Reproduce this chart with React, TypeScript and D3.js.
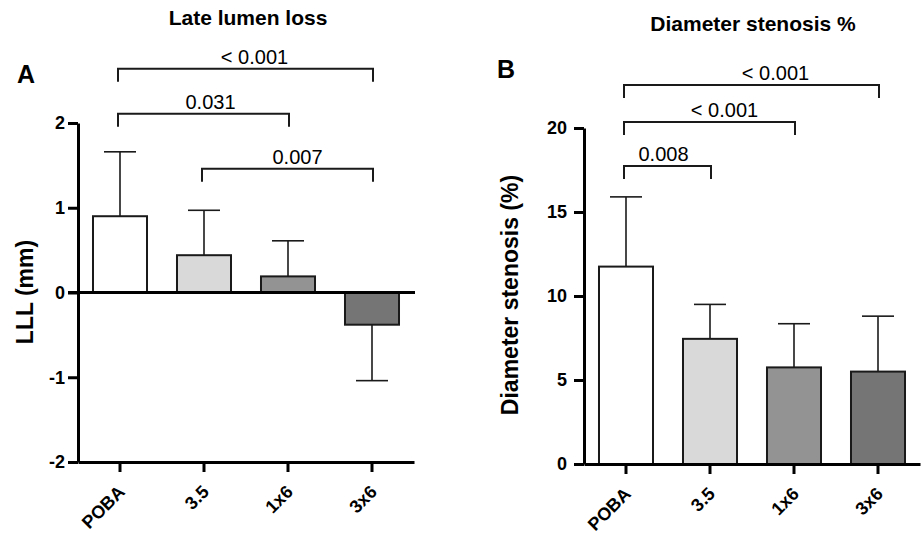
import React, { useEffect, useRef } from 'react';
import * as d3 from 'd3';

// groups (same for both panels)
const categories = ['POBA', '3.5', '1x6', '3x6'];
const barColors = ['#ffffff', '#d9d9d9', '#939393', '#757575'];

// A: late lumen loss (mm), mean and SD
const lllMean = [0.9, 0.44, 0.19, -0.38];
const lllSd = [0.76, 0.53, 0.42, 0.66];
const lllTicks = [-2, -1, 0, 1, 2];

// B: diameter stenosis (%), mean and SD
const dsMean = [11.75, 7.45, 5.75, 5.5];
const dsSd = [4.15, 2.05, 2.6, 3.3];
const dsTicks = [0, 5, 10, 15, 20];

// p-value brackets: [from, to, height in data units, label]
const lllPairs: [string, string, number, string][] = [
  ['POBA', '3x6', 2.64, '< 0.001'],
  ['POBA', '1x6', 2.11, '0.031'],
  ['3.5', '3x6', 1.46, '0.007'],
];
const dsPairs: [string, string, number, string][] = [
  ['POBA', '3x6', 22.56, '< 0.001'],
  ['POBA', '1x6', 20.36, '< 0.001'],
  ['POBA', '3.5', 17.74, '0.008'],
];

const FONT = "Arial, 'Liberation Sans', sans-serif";

type PanelOpts = {
  means: number[];
  sds: number[];
  ticks: number[];
  domain: [number, number];
  pairs: [string, string, number, string][];
  labelShift: number[];
  left: number;
  right: number;
  top: number;
  bottom: number;
  tickPad: number;
  title: string;
  titleX: number;
  titleY: number;
  letter: string;
  letterX: number;
  letterY: number;
  yLabel: string;
  yLabelX: number;
  yLabelY: number;
};

function drawPanel(svg: d3.Selection<SVGSVGElement, unknown, null, undefined>, o: PanelOpts) {
  const x = d3.scaleBand<string>()
    .domain(categories)
    .range([o.left, o.right])
    .paddingInner(0.357)
    .paddingOuter(0.1785);
  const y = d3.scaleLinear().domain(o.domain).range([o.bottom, o.top]);
  const g = svg.append('g');

  // bars
  g.selectAll('rect.bar')
    .data(o.means)
    .enter()
    .append('rect')
    .attr('x', (d, i) => x(categories[i])!)
    .attr('y', d => Math.min(y(d), y(0)))
    .attr('width', x.bandwidth())
    .attr('height', d => Math.abs(y(d) - y(0)))
    .attr('fill', (d, i) => barColors[i])
    .attr('stroke', '#1a1a1a')
    .attr('stroke-width', 2);

  // error bars (one side only)
  const cap = 16;
  o.means.forEach((m, i) => {
    const cx = x(categories[i])! + x.bandwidth() / 2;
    const end = m >= 0 ? m + o.sds[i] : m - o.sds[i];
    g.append('line')
      .attr('x1', cx).attr('x2', cx)
      .attr('y1', y(m)).attr('y2', y(end))
      .attr('stroke', '#1a1a1a').attr('stroke-width', 1.6);
    g.append('line')
      .attr('x1', cx - cap).attr('x2', cx + cap)
      .attr('y1', y(end)).attr('y2', y(end))
      .attr('stroke', '#1a1a1a').attr('stroke-width', 1.6);
  });

  // y axis
  const yAxis = g.append('g')
    .attr('transform', `translate(${o.left},0)`)
    .call(d3.axisLeft(y).tickValues(o.ticks).tickFormat(d => String(d)).tickSize(10).tickSizeOuter(0).tickPadding(o.tickPad));
  yAxis.select('.domain').attr('stroke-width', 3);
  yAxis.selectAll('.tick line').attr('stroke-width', 3);
  yAxis.selectAll('text').style('font-size', '18px').style('font-weight', 'bold').style('font-family', FONT).attr('fill', '#000');

  // x axis at bottom
  const xAxis = g.append('g')
    .attr('transform', `translate(0,${o.bottom})`)
    .call(d3.axisBottom(x).tickSize(10).tickSizeOuter(0).tickFormat(() => ''));
  xAxis.select('.domain').attr('stroke-width', 3);
  xAxis.selectAll('.tick line').attr('stroke-width', 3);

  // rotated category labels
  g.selectAll('text.cat')
    .data(categories)
    .enter()
    .append('text')
    .attr('transform', d => `translate(${x(d)! + x.bandwidth() / 2 + 6},${o.bottom + 31}) rotate(-45)`)
    .attr('text-anchor', 'end')
    .style('font-size', '18px')
    .style('font-weight', 'bold')
    .style('font-family', FONT)
    .text(d => d);

  // zero line when the axis crosses zero
  if (o.domain[0] < 0) {
    g.append('line')
      .attr('x1', o.left - 10).attr('x2', o.right + 1)
      .attr('y1', y(0)).attr('y2', y(0))
      .attr('stroke', '#000').attr('stroke-width', 3);
  }

  // significance brackets
  const leg = 13;
  o.pairs.forEach(([a, b, h, label], i) => {
    const x1 = x(a)! + x.bandwidth() / 2 - 2;
    const x2 = x(b)! + x.bandwidth() / 2 + 1;
    const yy = y(h);
    g.append('path')
      .attr('d', `M${x1},${yy + leg}V${yy}H${x2}V${yy + leg}`)
      .attr('fill', 'none')
      .attr('stroke', '#1a1a1a')
      .attr('stroke-width', 2);
    g.append('text')
      .attr('x', (x1 + x2) / 2 + o.labelShift[i])
      .attr('y', yy - 5)
      .attr('text-anchor', 'middle')
      .style('font-size', '20px')
      .style('font-family', FONT)
      .text(label);
  });

  // titles and labels
  g.append('text')
    .attr('x', o.titleX).attr('y', o.titleY)
    .attr('text-anchor', 'middle')
    .style('font-size', '21px').style('font-weight', 'bold').style('font-family', FONT)
    .text(o.title);
  g.append('text')
    .attr('x', o.letterX).attr('y', o.letterY)
    .style('font-size', '25px').style('font-weight', 'bold').style('font-family', FONT)
    .text(o.letter);
  g.append('text')
    .attr('transform', `translate(${o.yLabelX},${o.yLabelY}) rotate(-90)`)
    .attr('text-anchor', 'middle')
    .style('font-size', '23px').style('font-weight', 'bold').style('font-family', FONT)
    .text(o.yLabel);
}

const App = () => {
  const svgRef = useRef<SVGSVGElement>(null);

  useEffect(() => {
    const svg = d3.select(svgRef.current!);
    svg.selectAll('*').remove();

    drawPanel(svg, {
      means: lllMean, sds: lllSd, ticks: lllTicks, domain: [-2, 2],
      pairs: lllPairs, labelShift: [9, 7, 10],
      left: 78, right: 414, top: 123, bottom: 462, tickPad: 3,
      title: 'Late lumen loss', titleX: 248, titleY: 25,
      letter: 'A', letterX: 17, letterY: 83,
      yLabel: 'LLL (mm)', yLabelX: 33, yLabelY: 292,
    });

    drawPanel(svg, {
      means: dsMean, sds: dsSd, ticks: dsTicks, domain: [0, 20],
      pairs: dsPairs, labelShift: [24, 15, -4],
      left: 584, right: 920, top: 128, bottom: 464, tickPad: 7,
      title: 'Diameter stenosis %', titleX: 753, titleY: 31,
      letter: 'B', letterX: 497, letterY: 78,
      yLabel: 'Diameter stenosis (%)', yLabelX: 518, yLabelY: 295,
    });
  }, []);

  return (
    <svg
      ref={svgRef}
      width={921}
      height={536}
      style={{ position: 'absolute', left: 0, top: 0, background: '#fff' }}
    />
  );
};

export default App;
